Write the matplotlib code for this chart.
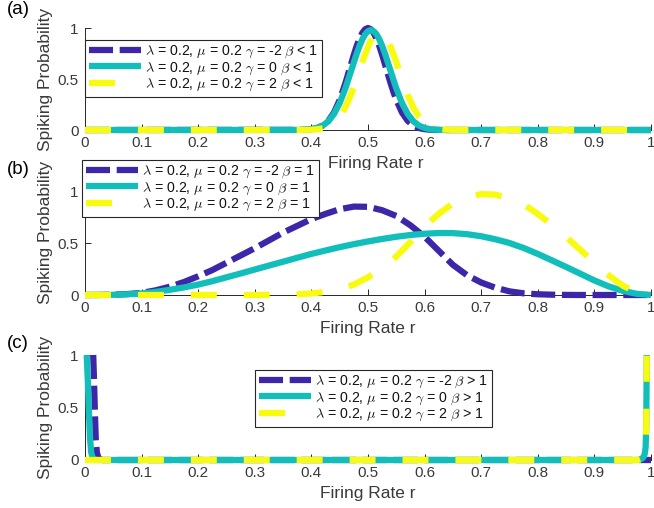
import matplotlib
matplotlib.use("Agg")
import matplotlib.pyplot as plt

plt.rcParams['font.family'] = ['Liberation Sans', 'DejaVu Sans']
plt.rcParams['mathtext.fontset'] = 'cm'
plt.rcParams['lines.scale_dashes'] = False

# ---------------- data ----------------
# panel (a): beta < 1
r_a = [0.0, 0.38, 0.39, 0.40, 0.41, 0.42, 0.43, 0.44, 0.45, 0.46, 0.47, 0.475,
       0.48, 0.485, 0.49, 0.495, 0.50, 0.505, 0.51, 0.515, 0.52, 0.525, 0.53,
       0.535, 0.54, 0.545, 0.55, 0.56, 0.57, 0.58, 0.59, 0.60, 0.61, 0.62,
       0.63, 0.64, 0.65, 1.0]
a_gm2 = [0, 0.001, 0.003, 0.008, 0.019, 0.044, 0.091, 0.172, 0.295, 0.458, 0.644, 0.737,
         0.823, 0.896, 0.952, 0.988, 1.0, 0.988, 0.952, 0.896, 0.823, 0.737, 0.644,
         0.550, 0.458, 0.372, 0.295, 0.172, 0.091, 0.044, 0.019, 0.008, 0.003, 0.001,
         0, 0, 0, 0]
a_g0 = [0, 0.001, 0.003, 0.008, 0.02, 0.043, 0.086, 0.158, 0.265, 0.408, 0.577, 0.664,
        0.748, 0.824, 0.889, 0.939, 0.969, 0.98, 0.969, 0.939, 0.889, 0.824, 0.748,
        0.664, 0.577, 0.491, 0.408, 0.265, 0.158, 0.086, 0.043, 0.02, 0.008, 0.003,
        0.001, 0, 0, 0]
a_g2 = [0, 0, 0.001, 0.003, 0.007, 0.016, 0.035, 0.070, 0.130, 0.221, 0.346, 0.42,
        0.499, 0.582, 0.665, 0.744, 0.815, 0.876, 0.922, 0.95, 0.96, 0.95, 0.922,
        0.876, 0.815, 0.744, 0.665, 0.499, 0.346, 0.221, 0.130, 0.070, 0.035, 0.016,
        0.007, 0.003, 0.001, 0]

# panel (b): beta = 1
r_b = [0.0, 0.025, 0.05, 0.075, 0.1, 0.125, 0.15, 0.175, 0.2, 0.225, 0.25, 0.275,
       0.3, 0.325, 0.35, 0.375, 0.4, 0.425, 0.45, 0.475, 0.5, 0.525, 0.55, 0.575,
       0.6, 0.625, 0.65, 0.675, 0.7, 0.725, 0.75, 0.775, 0.8, 0.825, 0.85, 0.875,
       0.9, 0.925, 0.95, 0.975, 1.0]
b_gm2 = [0, 0.0005, 0.003, 0.009, 0.02, 0.045, 0.08, 0.125, 0.18, 0.24, 0.31, 0.38,
         0.45, 0.525, 0.60, 0.665, 0.73, 0.78, 0.825, 0.85, 0.848, 0.815, 0.76, 0.67,
         0.56, 0.425, 0.29, 0.19, 0.12, 0.07, 0.035, 0.016, 0.007, 0.003, 0.001, 0,
         0, 0, 0, 0, 0]
b_g0 = [0, 0.0003, 0.002, 0.007, 0.015, 0.03, 0.05, 0.073, 0.10, 0.133, 0.17, 0.207,
        0.245, 0.283, 0.32, 0.358, 0.395, 0.428, 0.46, 0.489, 0.515, 0.539, 0.56, 0.577,
        0.589, 0.596, 0.595, 0.585, 0.565, 0.536, 0.50, 0.452, 0.395, 0.333, 0.27, 0.205,
        0.14, 0.083, 0.04, 0.011, 0]
b_g2 = [0, 0, 0, 0, 0, 0, 0, 0, 0, 0, 0, 0,
        0, 0.001, 0.003, 0.007, 0.015, 0.03, 0.055, 0.10, 0.17, 0.26, 0.37, 0.51,
        0.66, 0.78, 0.88, 0.94, 0.97, 0.965, 0.93, 0.87, 0.78, 0.675, 0.56, 0.435,
        0.31, 0.19, 0.09, 0.025, 0]

# panel (c): beta > 1
r_c_gm2 = [0.0145, 0.016, 0.0175, 0.019, 0.021, 0.024, 0.03, 1.0]
c_gm2 = [1.0, 0.75, 0.45, 0.2, 0.07, 0.015, 0, 0]
r_c_g0 = [0.003, 0.005, 0.007, 0.009, 0.011, 0.014, 0.02, 0.975, 0.98, 0.984,
          0.987, 0.989, 0.9905, 0.9915, 0.992, 0.9925]
c_g0 = [1.0, 0.75, 0.45, 0.2, 0.07, 0.015, 0, 0, 0.004, 0.012,
        0.03, 0.06, 0.12, 0.3, 0.6, 1.0]
r_c_g2 = [0.0, 0.975, 0.98, 0.984, 0.987, 0.989, 0.9905, 0.9915, 0.992, 0.9925]
c_g2 = [0, 0, 0.004, 0.012, 0.03, 0.06, 0.12, 0.3, 0.6, 1.0]

labels_a = [r'$\lambda$ = 0.2, $\mu$ = 0.2 $\gamma$ = -2 $\beta$ < 1',
            r'$\lambda$ = 0.2, $\mu$ = 0.2 $\gamma$ = 0 $\beta$ < 1',
            r'$\lambda$ = 0.2, $\mu$ = 0.2 $\gamma$ = 2 $\beta$ < 1']
labels_b = [r'$\lambda$ = 0.2, $\mu$ = 0.2 $\gamma$ = -2 $\beta$ = 1',
            r'$\lambda$ = 0.2, $\mu$ = 0.2 $\gamma$ = 0 $\beta$ = 1',
            r'$\lambda$ = 0.2, $\mu$ = 0.2 $\gamma$ = 2 $\beta$ = 1']
labels_c = [r'$\lambda$ = 0.2, $\mu$ = 0.2 $\gamma$ = -2 $\beta$ > 1',
            r'$\lambda$ = 0.2, $\mu$ = 0.2 $\gamma$ = 0 $\beta$ > 1',
            r'$\lambda$ = 0.2, $\mu$ = 0.2 $\gamma$ = 2 $\beta$ > 1']

xticks = [0, 0.1, 0.2, 0.3, 0.4, 0.5, 0.6, 0.7, 0.8, 0.9, 1]
xticklabels = ['0', '0.1', '0.2', '0.3', '0.4', '0.5', '0.6', '0.7', '0.8', '0.9', '1']
yticks = [0, 0.5, 1]
yticklabels = ['0', '0.5', '1']

# ---------------- style ----------------
C_PURPLE = '#3e26a8'
C_TEAL = '#12beb9'
C_YELLOW = '#f9fb0e'
AX_COL = '#262626'
TXT_COL = '#3a3a3a'
LW = 4.5

fig = plt.figure(figsize=(6.54, 5.08), dpi=100)

L, W = 0.12997, 0.86544
ax_a = fig.add_axes([L, 0.74409, W, 0.20079])
ax_b = fig.add_axes([L, 0.41929, W, 0.24567])
ax_c = fig.add_axes([L, 0.09449, W, 0.20669])


def draw(ax, xs, ys, labels, ylim, leg_anchor):
    (x1, y1), (x2, y2), (x3, y3) = zip(xs, ys)
    l1, = ax.plot(x1, y1, color=C_PURPLE, lw=LW, dashes=(17.3, 4.8),
                  dash_capstyle='butt', solid_capstyle='butt', clip_on=False, zorder=3,
                  label=labels[0])
    l2, = ax.plot(x2, y2, color=C_TEAL, lw=LW, solid_capstyle='butt',
                  clip_on=False, zorder=3.1, label=labels[1])
    l3, = ax.plot(x3, y3, color=C_YELLOW, lw=LW, dashes=(18.7, 19.4),
                  dash_capstyle='butt', clip_on=False, zorder=3.2, label=labels[2])
    ax.set_xlim(0, 1)
    ax.set_ylim(*ylim)
    ax.set_xticks(xticks)
    ax.set_xticklabels(xticklabels)
    ax.set_yticks(yticks)
    ax.set_yticklabels(yticklabels)
    for s in ['top', 'right']:
        ax.spines[s].set_visible(False)
    for s in ['left', 'bottom']:
        ax.spines[s].set_color(AX_COL)
        ax.spines[s].set_linewidth(0.7)
    ax.tick_params(direction='in', length=4, width=0.7, color=AX_COL,
                   labelcolor=TXT_COL, labelsize=11, pad=4.5)
    ax.set_xlabel('Firing Rate r', fontsize=12.5, color=TXT_COL, labelpad=4)
    ax.set_ylabel('Spiking Probability', fontsize=12.5, color=TXT_COL, labelpad=3)
    leg = ax.legend(handles=[l1, l2, l3], loc='upper left',
                    bbox_to_anchor=leg_anchor, bbox_transform=fig.transFigure,
                    fontsize=10.2, frameon=True, fancybox=False, framealpha=1,
                    edgecolor=AX_COL, borderpad=0.25, labelspacing=0.02,
                    handlelength=3.7, handletextpad=0.3, borderaxespad=0)
    leg.get_frame().set_linewidth(0.8)
    for t in leg.get_texts():
        t.set_color('#111111')
    leg.set_zorder(10)
    return ax


draw(ax_a, (r_a, r_a, r_a), (a_gm2, a_g0, a_g2), labels_a, (0, 1),
     (85 / 654, 1 - 40 / 508))
draw(ax_b, (r_b, r_b, r_b), (b_gm2, b_g0, b_g2), labels_b, (0, 1.2),
     (82 / 654, 1 - 160 / 508))
draw(ax_c, (r_c_gm2, r_c_g0, r_c_g2), (c_gm2, c_g0, c_g2), labels_c, (0, 1),
     (255 / 654, 1 - 370 / 508))

# the top panel's x label sits slightly right of centre in the reference
ax_a.xaxis.label.set_x(0.514)

for lab, yc in [('(a)', 10), ('(b)', 169), ('(c)', 343)]:
    fig.text(7 / 654, 1 - yc / 508, lab, fontsize=13.5, ha='left', va='center', color='black')

fig.savefig('out.png', dpi=100)
